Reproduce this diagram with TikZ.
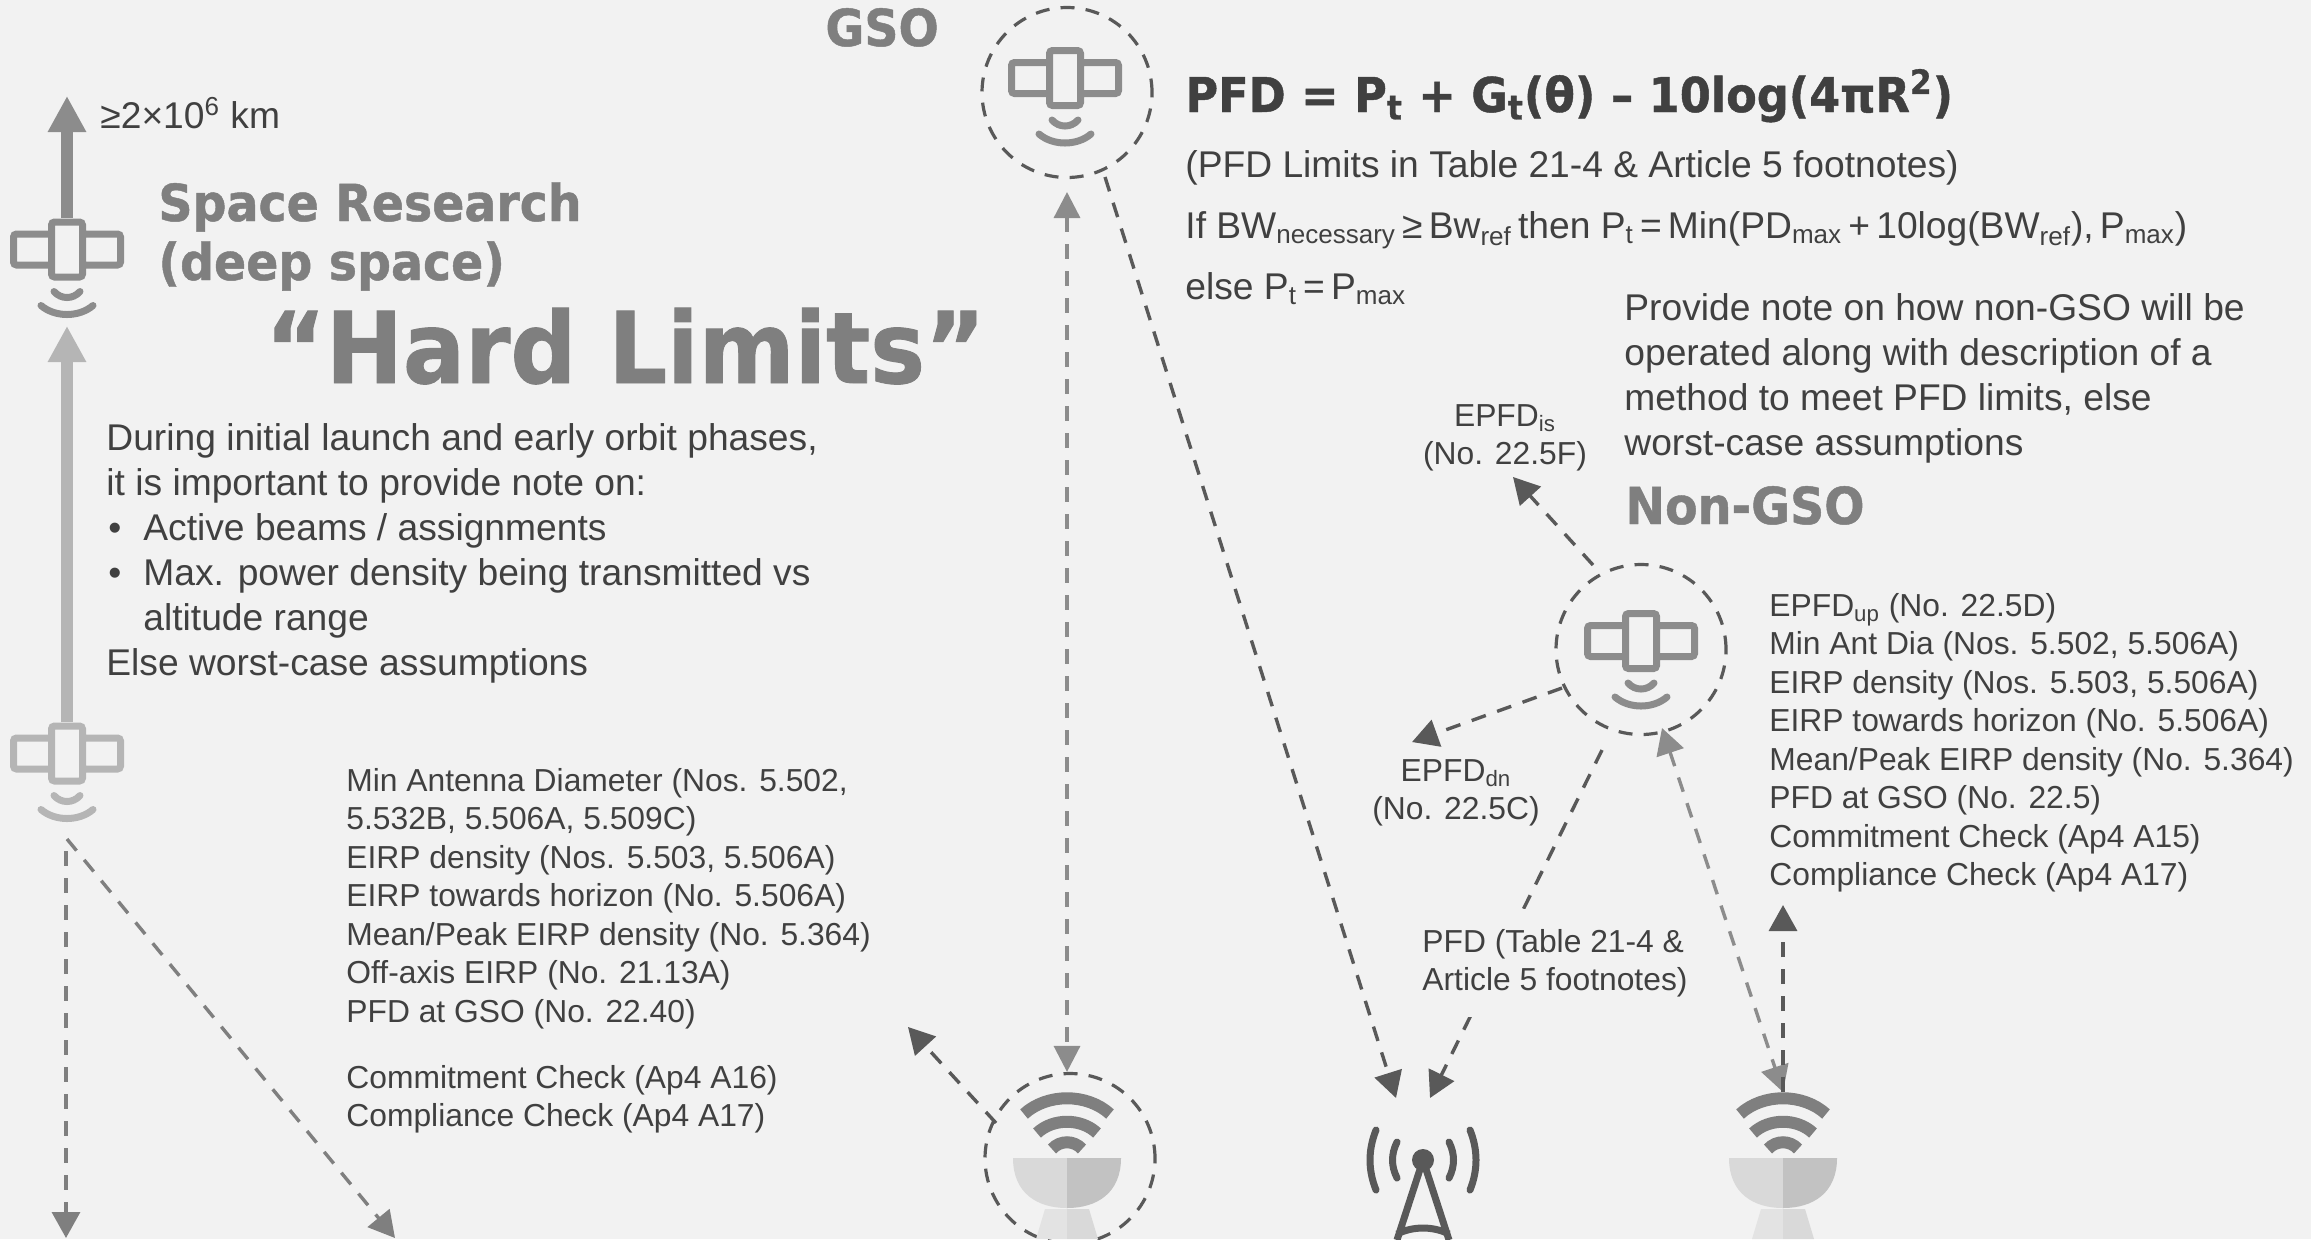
\documentclass[tikz,border=0pt]{standalone}
\usepackage{fontspec}
\setmainfont{Liberation Sans}
\newfontfamily\heavyfont[FakeStretch=0.93,FakeBold=0.9]{DejaVu Sans Bold}
\usetikzlibrary{arrows.meta,positioning,calc}

\definecolor{pagebg}{HTML}{F2F2F2}
\definecolor{inkdark}{HTML}{404040}
\definecolor{linedark}{HTML}{595959}
\definecolor{linemid}{HTML}{7F7F7F}
\definecolor{linesoft}{HTML}{8C8C8C}
\definecolor{linepale}{HTML}{B5B5B5}

\tikzset{
    pics/satellite/.style={code={
        \draw[#1, line width=3.5pt, rounded corners=1.5pt]
            (-15.5,-27.5) rectangle (15.5,27.5)
            (-15.5,-15.5) -- (-53.5,-15.5) -- (-53.5,15.5) -- (-15.5,15.5)
            (15.5,-15.5) -- (53.5,-15.5) -- (53.5,15.5) -- (15.5,15.5);
        \draw[#1, line width=3.5pt, line cap=round]
            (-13,42) .. controls (-6,50) and (6,50) .. (13,42)
            (-26,56) .. controls (-12,68) and (12,68) .. (26,56);
    }},
    pics/dish/.style={code={
        \draw[linemid, line width=6pt]
            (-43,21) .. controls (-20,0) and (20,0) .. (43,21)
            (-30,40) .. controls (-14,25) and (14,25) .. (30,40)
            (-15,56) .. controls (-7,47) and (7,47) .. (15,56);
        \fill[black!15] (-54,65) -- (0,65) -- (0,115)
            .. controls (-30,115) and (-54,100) .. (-54,65);
        \fill[black!24] (54,65) -- (0,65) -- (0,115)
            .. controls (30,115) and (54,100) .. (54,65);
        \fill[black!11] (-22,116) -- (0,116) -- (0,146) -- (-31,146) -- cycle;
        \fill[black!15] (22,116) -- (0,116) -- (0,146) -- (31,146) -- cycle;
    }},
    pics/tower/.style={code={
        \draw[linedark, line width=3.5pt]
            (0,0) -- (-26,80) (0,0) -- (26,80)
            (-26,74) .. controls (-10,66) and (10,66) .. (26,74);
        \fill[linedark] (0,0) circle (11);
        \draw[linedark, line width=3.5pt, line cap=round]
            (-47,-30) .. controls (-55,-10) and (-55,10) .. (-47,30)
            (-26,-18) .. controls (-32,-6) and (-32,6) .. (-26,18)
            (47,-30) .. controls (55,-10) and (55,10) .. (47,30)
            (26,-18) .. controls (32,-6) and (32,6) .. (26,18);
    }}
}

\begin{document}
\begin{tikzpicture}[
    x=0.5pt, y=-0.5pt,
    >=Stealth,
    ring/.style={circle, draw=linedark, line width=1.6pt, minimum size=85pt,
                 inner sep=0pt, dash pattern=on 7pt off 5.6pt},
    spot/.style={inner sep=0pt, minimum width=57pt, minimum height=31pt},
    link/.style={line width=1.7pt, dash pattern=on 7.5pt off 6pt},
    tipdark/.style={-{Triangle[length=13pt,width=14pt]}},
    body/.style={inner sep=0pt, anchor=north west, align=left, text=inkdark,
                 font=\fontsize{18.6}{22.5}\selectfont},
    small/.style={inner sep=0pt, align=left, text=inkdark,
                  font=\fontsize{15.9}{19.25}\selectfont},
    heading/.style={inner sep=0pt, anchor=base west, align=left, text=linemid,
                    font=\heavyfont\fontsize{25.5}{29.5}\selectfont}
]
    \clip (0,0) rectangle (2311,1239);
    \fill[pagebg] (0,0) rectangle (2311,1239);

    % stations and spacecraft
    \node[spot] (deep) at (67,249.5) {};
    \node[spot] (leop) at (67,753.5) {};
    \node[ring] (gso) at (1067,92.5) {};
    \node[ring] (ngso) at (1641,649.5) {};
    \node[ring] (earth) at (1070,1158.5) {};
    \node[spot, minimum width=54pt] (earthb) at (1783,1131) {};
    \node[spot, minimum width=50pt] (mast) at (1423,1160) {};

    \pic at (deep) {satellite=linesoft};
    \pic at (leop) {satellite=linepale};
    \pic at (1065,78) {satellite=linesoft};
    \pic at (1641,641) {satellite=linesoft};
    \pic at (1067,1093) {dish};
    \pic at (1783,1093) {dish};
    \pic at (mast) {tower};

    % free ends
    \coordinate (deeptop) at (67,96);
    \coordinate (leoptop) at (67,326);
    \coordinate (leopa) at (66,851);
    \coordinate (leopb) at (67,839);
    \coordinate (downa) at (66,1238);
    \coordinate (downb) at (395,1238);
    \coordinate (gsotop) at (1067,192);
    \coordinate (gsostart) at (1105,177);
    \coordinate (gsotip) at (1396,1098);
    \coordinate (pfdtip) at (1430,1098);
    \coordinate (pfdstart) at (1602,750);
    \coordinate (uptip) at (1662,728);
    \coordinate (upfoot) at (1783,1092);
    \coordinate (vert) at (1783,905);
    \coordinate (isstart) at (1593,565);
    \coordinate (istip) at (1513,477);
    \coordinate (dnstart) at (1562,688);
    \coordinate (dntip) at (1412,742);
    \coordinate (sidestart) at (996,1123);
    \coordinate (sidetip) at (908,1027);

    \draw[linesoft, line width=6pt, -{Triangle[length=18pt,width=18pt]}] (deep.north) -- (deeptop);
    \draw[linepale, line width=6pt, -{Triangle[length=18pt,width=18pt]}] (leop.north) -- (leoptop);
    \draw[linemid, link, tipdark] (leopa) -- (downa);
    \draw[linemid, link, tipdark] (leopb) -- (downb);

    \draw[linesoft, link, {Triangle[length=13pt,width=13pt]}-{Triangle[length=13pt,width=13pt]}]
        (gsotop) -- (gsotop |- earth.north);
    \draw[linedark, link, tipdark] (gsostart) -- (gsotip);
    \draw[linedark, link, tipdark] (pfdstart) -- (pfdtip);
    \draw[linesoft, link, {Triangle[length=13pt,width=14pt]}-{Triangle[length=13pt,width=14pt]}]
        (uptip) -- (upfoot);
    \draw[linedark, link, tipdark] (upfoot) -- (vert);
    \draw[linedark, link, tipdark] (isstart) -- (istip);
    \draw[linedark, link, tipdark] (dnstart) -- (dntip);
    \draw[linedark, link, tipdark] (sidestart) -- (sidetip);

    % headings
    \node[heading] (gsolabel) at (825,46) {GSO};
    \node[heading] (deeplabel) at (158,280) {Space Research\\[0pt](deep space)};
    \node[heading, font=\heavyfont\fontsize{49.5}{60}\selectfont] (hard) at (265,383) {“Hard Limits”};
    \node[heading] (ngsolabel) at (1625,524) {Non-GSO};

    % text
    \node[body, anchor=base west] (range) at (100,128) {≥2×10\textsuperscript{6} km};
    \node[body] (launch) at (106,423) {During initial launch and early orbit phases,\\
        it is important to provide note on:\\
        \makebox[18.5pt][l]{\hspace*{1pt}•}Active beams / assignments\\
        \makebox[18.5pt][l]{\hspace*{1pt}•}Max. power density being transmitted vs\\
        \hspace*{18.5pt}altitude range\\
        Else worst-case assumptions};
    \node[body, font=\heavyfont\fontsize{24}{28}\selectfont, anchor=base west]
        (pfd) at (1185,112) {PFD = P\textsubscript{t} + G\textsubscript{t}(θ) – 10log(4πR\textsuperscript{2})};
    \node[body] (limits) at (1185,150) {(PFD Limits in Table 21-4 \& Article 5 footnotes)};
    \node[body] (bwrule) at (1185,211) {If BW\textsubscript{necessary}\,≥\,Bw\textsubscript{ref}\,then
        P\textsubscript{t}\,=\,Min(PD\textsubscript{max}\,+\,10log(BW\textsubscript{ref}),\,P\textsubscript{max})};
    \node[body] (elserule) at (1185,272) {else P\textsubscript{t}\,=\,P\textsubscript{max}};
    \node[body] (provide) at (1624,293) {Provide note on how non-GSO will be\\
        operated along with description of a\\
        method to meet PFD limits, else\\
        worst-case assumptions};

    \node[small, align=center] (epfdis) at (1505,438) {EPFD\textsubscript{is}\\(No. 22.5F)};
    \node[small, align=center] (epfddn) at (1456,793) {EPFD\textsubscript{dn}\\(No. 22.5C)};
    \node[small, fill=pagebg, inner ysep=10pt, anchor=west] (pfdnote) at (1422,963)
        {PFD (Table 21-4 \&\\Article 5 footnotes)};

    \node[small, anchor=north west] (ngsolist) at (1769,593) {EPFD\textsubscript{up} (No. 22.5D)\\
        Min Ant Dia (Nos. 5.502, 5.506A)\\
        EIRP density (Nos. 5.503, 5.506A)\\
        EIRP towards horizon (No. 5.506A)\\
        Mean/Peak EIRP density (No. 5.364)\\
        PFD at GSO (No. 22.5)\\
        Commitment Check (Ap4 A15)\\
        Compliance Check (Ap4 A17)};
    \node[small, anchor=north west] (leolist) at (346,768) {Min Antenna Diameter (Nos. 5.502,\\
        5.532B, 5.506A, 5.509C)\\
        EIRP density (Nos. 5.503, 5.506A)\\
        EIRP towards horizon (No. 5.506A)\\
        Mean/Peak EIRP density (No. 5.364)\\
        Off-axis EIRP (No. 21.13A)\\
        PFD at GSO (No. 22.40)};
    \node[small, anchor=north west] (checks) at (346,1065) {Commitment Check (Ap4 A16)\\
        Compliance Check (Ap4 A17)};
\end{tikzpicture}
\end{document}
